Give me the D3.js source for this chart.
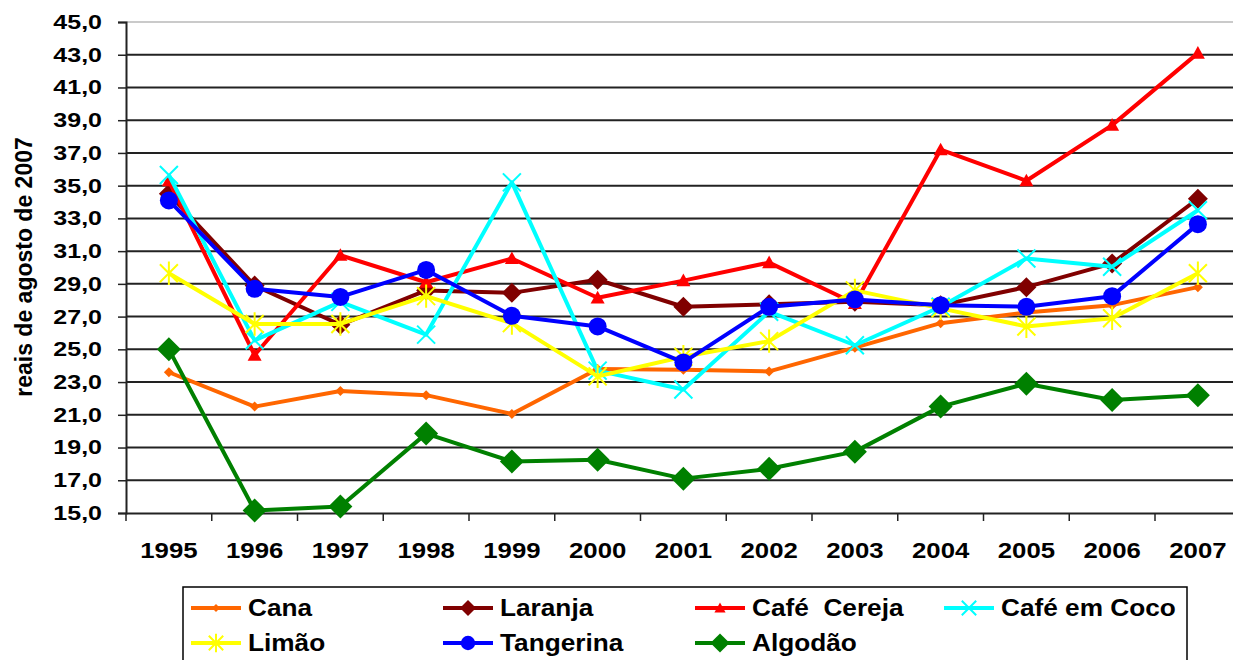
<!DOCTYPE html>
<html>
<head>
<meta charset="utf-8">
<script src="https://cdn.jsdelivr.net/npm/d3@7"></script>
<style>
  body { margin: 0; background: #fff; }
  svg text { font-family: "Liberation Sans", Arial, sans-serif; font-weight: bold; fill: #000; }
</style>
</head>
<body>
<svg id="chart" width="1233" height="660"></svg>
<script>
// categories
const years = ["1995","1996","1997","1998","1999","2000","2001","2002","2003","2004","2005","2006","2007"];
const yTicks = [15,17,19,21,23,25,27,29,31,33,35,37,39,41,43,45];

// series values (reais de agosto de 2007)
const cana      = [23.6,21.5,22.45,22.2,21.05,23.8,23.75,23.65,25.1,26.6,27.25,27.7,28.8];
const laranja   = [34.5,28.9,26.5,28.6,28.45,29.25,27.6,27.75,27.9,27.7,28.8,30.25,34.2];
const cafeCereja= [35.3,24.65,30.75,29.1,30.55,28.15,29.2,30.3,27.8,37.2,35.3,38.7,43.1];
const cafeCoco  = [35.65,25.55,27.9,25.9,35.2,23.7,22.55,27.3,25.25,27.6,30.55,30.05,33.5];
const limao     = [29.65,26.55,26.55,28.25,26.6,23.35,24.55,25.5,28.6,27.5,26.4,26.9,29.65];
const tangerina = [34.1,28.7,28.2,29.85,27.05,26.4,24.2,27.6,28.05,27.7,27.6,28.25,32.65];
const algodao   = [25.0,15.15,15.4,19.85,18.15,18.25,17.1,17.7,18.75,21.5,22.9,21.9,22.2];

const seriesNames = ["Cana","Laranja","Café \u00A0Cereja","Café em Coco","Limão","Tangerina","Algodão"];
const seriesValues = [cana, laranja, cafeCereja, cafeCoco, limao, tangerina, algodao];
const seriesColors = ["#FF6600","#800000","#FF0000","#00FFFF","#FFFF00","#0000FF","#008000"];
const seriesMarkers = ["diamondS","diamondM","triangle","cross","star","circle","diamondL"];

const svg = d3.select("#chart");
const plotLeft = 126, plotTop = 22, plotBottom = 513, step = 85.75;

const x = d3.scaleBand().domain(years).range([plotLeft, plotLeft + step * years.length]);
const y = d3.scaleLinear().domain([15,45]).range([plotBottom, plotTop]);

// gridlines
svg.append("g").selectAll("line")
  .data(yTicks.slice(1))
  .join("line")
  .attr("x1", plotLeft).attr("x2", x.range()[1])
  .attr("y1", d => y(d)).attr("y2", d => y(d))
  .attr("stroke", d => d === 45 ? "#b8b8b8" : "#222")
  .attr("stroke-width", d => d === 45 ? 1.5 : 2);

// y axis (labels a bit wide, as in the original)
const ySx = 1.25;
const yAxis = svg.append("g")
  .attr("transform", `translate(${plotLeft},0)`)
  .call(d3.axisLeft(y).tickValues(yTicks).tickSize(8).tickPadding(14)
    .tickFormat(d => d3.format(".1f")(d).replace(".", ",")));
yAxis.select(".domain").attr("stroke", "#222").attr("stroke-width", 2);
yAxis.selectAll(".tick line").attr("stroke", "#222").attr("stroke-width", 1.5);
yAxis.selectAll("text")
  .style("font-size", "20px")
  .attr("x", -24 / ySx)
  .attr("transform", `scale(${ySx},1)`);

// x axis
const xSx = 1.12;
const xAxis = svg.append("g")
  .attr("transform", `translate(0,${plotBottom})`)
  .call(d3.axisBottom(x).tickSize(0).tickPadding(29));
xAxis.select(".domain").attr("stroke", "#222").attr("stroke-width", 2);
xAxis.selectAll("text")
  .style("font-size", "23px")
  .attr("transform", `scale(${xSx},1)`);
svg.append("g").selectAll("line")
  .data(years.concat(["end"]))
  .join("line")
  .attr("x1", (d,i) => plotLeft + i * step).attr("x2", (d,i) => plotLeft + i * step)
  .attr("y1", plotBottom).attr("y2", plotBottom + 8)
  .attr("stroke", "#222").attr("stroke-width", 1.5);

// y label
svg.append("text")
  .attr("transform", "translate(32,267) rotate(-90)")
  .attr("text-anchor", "middle")
  .style("font-size", "23px")
  .text("reais de agosto de 2007");

// marker drawing
function drawMarker(g, type, color, k) {
  if (type === "circle") {
    g.append("circle").attr("r", 9 * k).attr("fill", color);
  } else if (type.startsWith("diamond")) {
    const s = (type === "diamondS" ? 5 : type === "diamondM" ? 10 : 12) * k;
    g.append("path").attr("d", `M0,${-s}L${s},0L0,${s}L${-s},0Z`).attr("fill", color);
  } else if (type === "triangle") {
    const s = 7 * k;
    g.append("path").attr("d", `M0,${-s}L${s},${s * 0.8}L${-s},${s * 0.8}Z`).attr("fill", color);
  } else if (type === "cross") {
    const s = 9 * k;
    g.append("path").attr("d", `M${-s},${-s}L${s},${s}M${-s},${s}L${s},${-s}`)
      .attr("stroke", color).attr("stroke-width", 2);
  } else if (type === "star") {
    const s = 9 * k;
    g.append("path").attr("d", `M${-s},${-s}L${s},${s}M${-s},${s}L${s},${-s}M0,${-s * 1.3}L0,${s * 1.3}`)
      .attr("stroke", color).attr("stroke-width", 2);
  }
}

const line = d3.line().x((d,i) => x(years[i]) + x.bandwidth() / 2).y(d => y(d));

seriesValues.forEach((vals, si) => {
  const g = svg.append("g");
  g.append("path").datum(vals)
    .attr("d", line)
    .attr("fill", "none")
    .attr("stroke", seriesColors[si])
    .attr("stroke-width", 4)
    .attr("stroke-linejoin", "round");
  g.selectAll("g.m").data(vals).join("g").attr("class", "m")
    .attr("transform", (d,i) => `translate(${x(years[i]) + x.bandwidth() / 2},${y(d)})`)
    .each(function() { drawMarker(d3.select(this), seriesMarkers[si], seriesColors[si], 1); });
});

// legend
const legend = svg.append("g");
legend.append("rect")
  .attr("x", 183).attr("y", 587).attr("width", 1004).attr("height", 90)
  .attr("fill", "#fff").attr("stroke", "#000").attr("stroke-width", 1.5);
const colX = [191, 443, 695, 944];
const rowY = [608, 643];
seriesNames.forEach((name, i) => {
  const lx = colX[i % 4], ly = rowY[Math.floor(i / 4)];
  const e = legend.append("g").attr("transform", `translate(${lx},${ly})`);
  e.append("line").attr("x1", 0).attr("x2", 50).attr("y1", 0).attr("y2", 0)
    .attr("stroke", seriesColors[i]).attr("stroke-width", 4);
  const m = e.append("g").attr("transform", "translate(25,0)");
  drawMarker(m, seriesMarkers[i], seriesColors[i], 0.8);
  e.append("text")
    .attr("transform", "translate(57,8) scale(1.14,1)")
    .style("font-size", "23px")
    .text(name);
});
</script>
</body>
</html>
